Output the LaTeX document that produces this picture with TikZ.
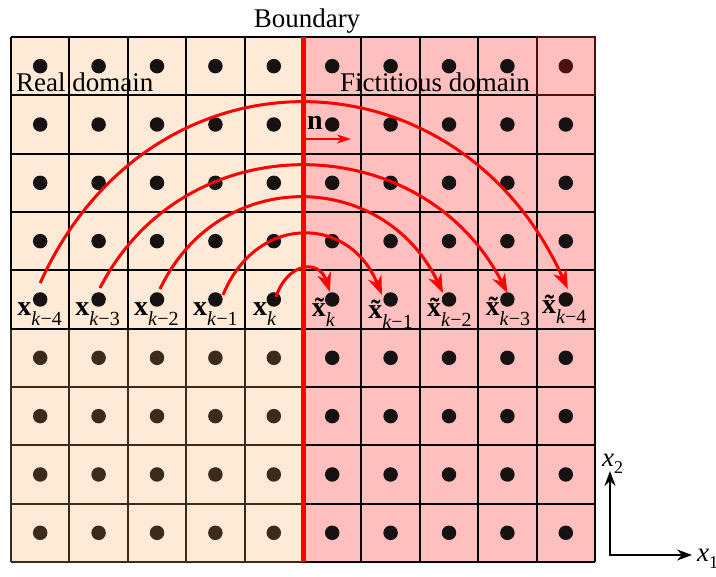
\documentclass[tikz,border=0pt]{standalone}
\usepackage{fontspec}
\setmainfont{Liberation Serif}
\usetikzlibrary{arrows.meta,calc}
\definecolor{realfill}{RGB}{255,234,216}
\definecolor{fictfill}{RGB}{255,191,191}
\definecolor{boundred}{RGB}{255,0,0}
\definecolor{dotblack}{RGB}{22,18,18}
\definecolor{dotbrown}{RGB}{60,42,26}
\definecolor{dotdark}{RGB}{75,18,18}
\newcommand\xsub[1]{\raisebox{-10pt}{\fontsize{20}{20}\selectfont #1}}
\newcommand\plainx[1]{{\fontsize{28}{28}\selectfont\bfseries x}\xsub{#1}}
\newcommand\tildex[1]{{\fontsize{28}{28}\selectfont\bfseries\~{x}}\xsub{#1}}
\begin{document}
\begin{tikzpicture}[x=1pt,y=-1pt,
  dot/.style={circle,fill=dotblack,inner sep=0pt,minimum size=14.5pt},
  gridline/.style={line width=2pt},
  maparrow/.style={draw=boundred,line width=3pt,-{Stealth[length=19pt,width=14pt,inset=6pt]}},
  lab/.style={anchor=base west,inner sep=0pt},
  bigtext/.style={font=\fontsize{27}{28}\selectfont}]
\useasboundingbox (0,0) rectangle (716,577);
% fills
\fill[realfill] (11,37) rectangle (303.2,562);
\fill[fictfill] (303.2,37) rectangle (595,562);
% grid
\foreach \i in {0,...,10} \draw[gridline] ({11+58.4*\i},37) -- ({11+58.4*\i},562);
\foreach \j in {0,...,9} \draw[gridline] (11,{37+58.33*\j}) -- (595,{37+58.33*\j});
\foreach \i in {0,...,4} \draw[gridline,draw=dotbrown] ({11+58.4*\i},329.6) -- ({11+58.4*\i},562);
\foreach \j in {6,...,9} \draw[gridline,draw=dotbrown] (11,{37+58.33*\j}) -- (303.2,{37+58.33*\j});
\draw[gridline,draw=dotdark] (536.6,37) rectangle (595,95.33);
% dots
\foreach \i in {0,...,9}{\foreach \j in {0,...,8}{
  \pgfmathtruncatemacro\bro{(\i<5)&&(\j>4)}
  \ifnum\bro=1 \def\dc{dotbrown}\else\def\dc{dotblack}\fi
  \ifnum\i=9 \ifnum\j=0 \def\dc{dotdark}\fi\fi
  \node[dot,fill=\dc] (d-\i-\j) at ({11+58.4*(\i+0.5)},{37+58.33*(\j+0.5)}) {};
}}
% boundary
\coordinate (btop) at (303.2,37);
\coordinate (bbot) at (303.2,562);
\draw[boundred,line width=5pt] (btop) -- (bbot);
% texts
\node[bigtext,anchor=base] (boundary) at (307,28) {Boundary};
\node[bigtext,lab] (real) at (16,92) {Real domain};
\node[bigtext,lab] (fict) at (340,92) {Fictitious domain};
% normal
\coordinate (nstart) at (303.2,139);
\coordinate (nend) at (351,139);
\draw[boundred,line width=2pt,-{Stealth[length=14pt,width=9pt,inset=4pt]}] (nstart) -- (nend);
\node[lab,font=\fontsize{28}{28}\selectfont\bfseries] (nlab) at (307,130) {n};
% mapping arcs
\draw[maparrow] ($(d-0-4)+(0,-16.5)$) .. controls +(110,-244) and +(-110,-244) .. ($(d-9-4)+(2,-10.5)$);
\draw[maparrow] ($(d-1-4)+(1.4,-11.5)$) .. controls +(85,-166) and +(-85,-166) .. ($(d-8-4)+(0,-6.5)$);
\draw[maparrow] ($(d-2-4)+(3,-10.5)$) .. controls +(59,-124) and +(-59,-124) .. ($(d-7-4)+(-6,-6.5)$);
\draw[maparrow] ($(d-3-4)+(7.6,-4.5)$) .. controls +(33,-81) and +(-33,-81) .. ($(d-6-4)+(-8.6,-4.5)$);
\draw[maparrow] ($(d-4-4)+(2.2,-2.5)$) .. controls +(11,-34) and +(-11,-34) .. ($(d-5-4)+(-2.2,-7.5)$);
% labels
\node[lab] (l-k4) at ($(d-0-4)+(-23,16)$) {\plainx{\textit{k}−4}};
\node[lab] (l-k3) at ($(d-1-4)+(-23.5,16)$) {\plainx{\textit{k}−3}};
\node[lab] (l-k2) at ($(d-2-4)+(-23,16)$) {\plainx{\textit{k}−2}};
\node[lab] (l-k1) at ($(d-3-4)+(-22.5,16)$) {\plainx{\textit{k}−1}};
\node[lab] (l-k0) at ($(d-4-4)+(-21,16)$) {\plainx{\textit{k}}};
\node[lab] (t-k0) at ($(d-5-4)+(-20.5,17)$) {\tildex{\textit{k}}};
\node[lab] (t-k1) at ($(d-6-4)+(-22.5,19)$) {\tildex{\textit{k}−1}};
\node[lab] (t-k2) at ($(d-7-4)+(-22,17)$) {\tildex{\textit{k}−2}};
\node[lab] (t-k3) at ($(d-8-4)+(-22,16)$) {\tildex{\textit{k}−3}};
\node[lab] (t-k4) at ($(d-9-4)+(-24,14)$) {\tildex{\textit{k}−4}};
% axes
\coordinate (origin) at (610,555);
\coordinate (x2end) at (610,471);
\coordinate (x1end) at (692,555);
\draw[line width=2pt,{Stealth[length=15pt,width=11pt,inset=5pt]}-{Stealth[length=15pt,width=11pt,inset=5pt]}] (x2end) -- (origin) -- (x1end);
\node[lab] (x2lab) at (602,467) {\fontsize{27}{27}\selectfont\itshape x\raisebox{-7pt}{\fontsize{18}{18}\selectfont\upshape 2}};
\node[lab] (x1lab) at (697,562) {\fontsize{27}{27}\selectfont\itshape x\raisebox{-7pt}{\fontsize{18}{18}\selectfont\upshape 1}};
\end{tikzpicture}
\end{document}
